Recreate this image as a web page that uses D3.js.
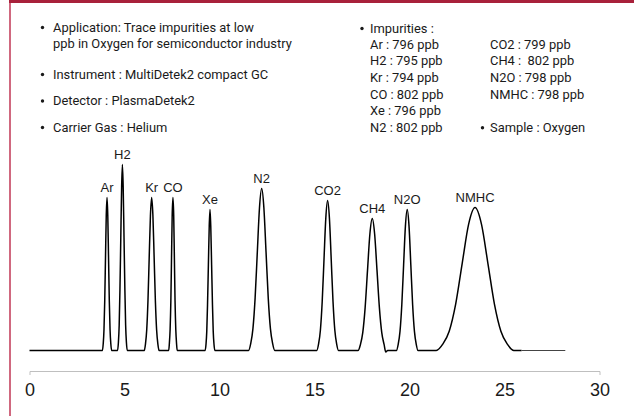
<!DOCTYPE html>
<html>
<head>
<meta charset="utf-8">
<script src="https://cdn.jsdelivr.net/npm/d3@7/dist/d3.min.js"></script>
<style>
  body { margin: 0; background: #fff; }
  svg { display: block; }
  text { font-family: 'Liberation Sans', Arial, sans-serif; fill: #1a1a1a; }
  .note { font-family: Roboto, 'Liberation Sans', sans-serif; font-size: 12.9px; white-space: pre; }
</style>
</head>
<body>
<svg width="634" height="416"></svg>
<script>
/* global d3 */

// Peaks: name, retention time (min), height (signal units)
const peakNames = ['Ar', 'H2', 'Kr', 'CO', 'Xe', 'N2', 'CO2', 'CH4', 'N2O', 'NMHC'];
const peakTimes = [4.08, 4.89, 6.43, 7.55, 9.50, 12.22, 15.69, 18.04, 19.88, 23.45];
const peakHeights = [153, 186, 153, 153, 141, 162, 150, 132, 141, 143];

// Chromatogram trace: [time, signal]
const trace = [
  [0, 0], [3.84, 0],
  [3.88, 6.7], [3.92, 20.7], [3.96, 49.7], [4.00, 92.9], [4.04, 135], [4.08, 153],
  [4.12, 135], [4.16, 92.9], [4.20, 49.7], [4.24, 20.7], [4.28, 6.7], [4.32, 0],
  [4.635, 0], [4.68, 8.2], [4.72, 25.2], [4.76, 60.4], [4.805, 112.8], [4.85, 164.1], [4.89, 186],
  [4.93, 164.1], [4.975, 112.8], [5.02, 60.4], [5.06, 25.2], [5.10, 8.2], [5.145, 0],
  [6.04, 0], [6.105, 6.7], [6.17, 20.7], [6.235, 49.7], [6.30, 92.9], [6.365, 135], [6.43, 153],
  [6.495, 135], [6.56, 92.9], [6.625, 49.7], [6.69, 20.7], [6.755, 6.7], [6.82, 0],
  [7.325, 0], [7.36, 6.7], [7.40, 20.7], [7.44, 49.7], [7.475, 92.9], [7.51, 135], [7.55, 153],
  [7.59, 135], [7.625, 92.9], [7.66, 49.7], [7.70, 20.7], [7.74, 6.7], [7.775, 0],
  [9.245, 0], [9.29, 6.2], [9.33, 19.1], [9.37, 45.8], [9.415, 85.5], [9.46, 124.4], [9.50, 141],
  [9.54, 124.4], [9.585, 85.5], [9.63, 45.8], [9.67, 19.1], [9.71, 6.2], [9.755, 0],
  [11.53, 0], [11.645, 7.1], [11.76, 21.9], [11.875, 52.6], [11.99, 98.3], [12.105, 143], [12.22, 162],
  [12.335, 143], [12.45, 98.3], [12.565, 52.6], [12.68, 21.9], [12.795, 7.1], [12.91, 0],
  [15.12, 0], [15.215, 6.6], [15.31, 20.3], [15.405, 48.7], [15.50, 91], [15.595, 132.4], [15.69, 150],
  [15.785, 132.4], [15.88, 91], [15.975, 48.7], [16.07, 20.3], [16.165, 6.6], [16.26, 0],
  [17.29, 0], [17.415, 5.8], [17.54, 17.9], [17.665, 42.9], [17.79, 80.1], [17.915, 116.5], [18.04, 132],
  [18.165, 116.5], [18.29, 80.1], [18.415, 42.9], [18.54, 17.9], [18.665, 5.8], [18.75, -1.5], [18.85, 0],
  [19.31, 0], [19.405, 6.2], [19.50, 19.1], [19.595, 45.8], [19.69, 85.5], [19.785, 124.4], [19.88, 141],
  [19.975, 124.4], [20.07, 85.5], [20.165, 45.8], [20.26, 19.1], [20.355, 6.2], [20.45, 0],
  [21.41, 0], [21.75, 6.3], [22.09, 19.3], [22.43, 46.4], [22.77, 86.7], [23.11, 126.2], [23.45, 143],
  [23.79, 126.2], [24.13, 86.7], [24.47, 46.4], [24.81, 19.3], [25.15, 6.3], [25.49, 0],
  [25.9, 0],
];
const traceTail = [[25.9, 0], [28.2, 0]];

const xTicks = [0, 5, 10, 15, 20, 25, 30];

// Notes above the chart
const leftNotes = [
  ['Application: Trace impurities at low', 'ppb in Oxygen for semiconductor industry'],
  ['Instrument : MultiDetek2 compact GC'],
  ['Detector : PlasmaDetek2'],
  ['Carrier Gas : Helium'],
];
const impuritiesTitle = 'Impurities :';
const impuritiesCol1 = ['Ar : 796 ppb', 'H2 : 795 ppb', 'Kr : 794 ppb', 'CO : 802 ppb', 'Xe : 796 ppb', 'N2 : 802 ppb'];
const impuritiesCol2 = ['CO2 : 799 ppb', 'CH4 :  802 ppb', 'N2O : 798 ppb', 'NMHC : 798 ppb'];
const sampleNote = 'Sample : Oxygen';

const svg = d3.select('svg');

// Frame: red top bar and pink left rule
svg.append('rect')
  .attr('x', 9).attr('y', 0)
  .attr('width', 625).attr('height', 3)
  .attr('fill', '#a8213b');
svg.append('rect')
  .attr('x', 9).attr('y', 3)
  .attr('width', 2).attr('height', 413)
  .attr('fill', '#d0687f');

// Scales
const x = d3.scaleLinear().domain([0, 30]).range([29.5, 599.5]);
const y = d3.scaleLinear().domain([0, 200]).range([350.5, 150.5]);

// Axis
const xAxis = d3.axisBottom(x)
  .tickValues(xTicks)
  .tickSizeInner(0)
  .tickSizeOuter(4)
  .tickPadding(12);

const axisG = svg.append('g')
  .attr('transform', 'translate(0, 371)')
  .call(xAxis);
axisG.select('.domain').attr('stroke', '#bfbfbf');
axisG.selectAll('text')
  .style('font-family', "'Liberation Sans', Arial, sans-serif")
  .style('font-size', '18px')
  .attr('fill', '#1a1a1a');

// Trace
const line = d3.line()
  .x((d) => x(d[0]))
  .y((d) => y(d[1]))
  .curve(d3.curveMonotoneX);

svg.append('path')
  .datum(trace)
  .attr('d', line)
  .attr('fill', 'none')
  .attr('stroke', '#000')
  .attr('stroke-width', 1.5)
  .attr('stroke-linejoin', 'round');

svg.append('path')
  .datum(traceTail)
  .attr('d', line)
  .attr('fill', 'none')
  .attr('stroke', '#444')
  .attr('stroke-width', 1);

// Peak labels
svg.selectAll('.peak-label')
  .data(peakNames)
  .enter()
  .append('text')
  .attr('class', 'peak-label')
  .attr('x', (d, i) => x(peakTimes[i]))
  .attr('y', (d, i) => y(peakHeights[i]) - 6)
  .attr('text-anchor', 'middle')
  .style('font-size', '13px')
  .text((d) => d);

// Left notes
const noteBaselines = [31.5, 78.5, 105, 131.5];
const bullet = (bx, by) => svg.append('circle')
  .attr('cx', bx).attr('cy', by - 4)
  .attr('r', 1.7)
  .attr('fill', '#1a1a1a');

leftNotes.forEach((lines, i) => {
  bullet(42.5, noteBaselines[i]);
  lines.forEach((t, j) => {
    svg.append('text')
      .attr('class', 'note')
      .attr('x', 53)
      .attr('y', noteBaselines[i] + j * 16.5)
      .text(t);
  });
});

// Impurity notes
bullet(362, 32.5);
svg.append('text')
  .attr('class', 'note')
  .attr('x', 370).attr('y', 32.5)
  .text(impuritiesTitle);

impuritiesCol1.forEach((t, i) => {
  svg.append('text')
    .attr('class', 'note')
    .attr('x', 370).attr('y', 48.5 + i * 16.67)
    .text(t);
});
impuritiesCol2.forEach((t, i) => {
  svg.append('text')
    .attr('class', 'note')
    .attr('x', 490).attr('y', 48.5 + i * 16.67)
    .text(t);
});

bullet(482.5, 131.7);
svg.append('text')
  .attr('class', 'note')
  .attr('x', 490).attr('y', 131.7)
  .text(sampleNote);
</script>
</body>
</html>
